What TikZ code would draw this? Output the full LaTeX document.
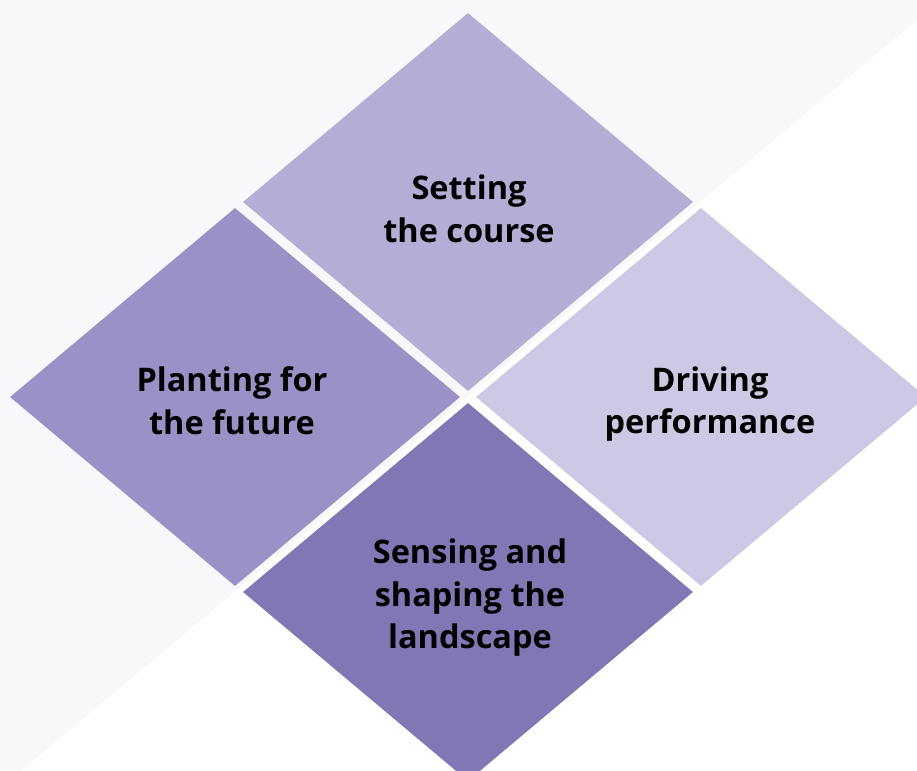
\documentclass[tikz,border=0pt]{standalone}
\usepackage{fontspec}
\setmainfont{Open Sans}
\usetikzlibrary{shapes.geometric}
\definecolor{bggray}{HTML}{F8F8FA}
\definecolor{dtop}{HTML}{B3AED6}
\definecolor{dleft}{HTML}{9B91C6}
\definecolor{dright}{HTML}{CDC9E4}
\definecolor{dbottom}{HTML}{8177B5}
\tikzset{
  tile/.style={diamond, draw=none, inner sep=0pt, minimum width=450pt, minimum height=378pt},
  lbl/.style={align=center, inner sep=0pt, text=black, font=\fontsize{32.5}{42.5}\selectfont\bfseries},
}
\begin{document}
\begin{tikzpicture}[x=1pt,y=-1pt]
\useasboundingbox (0,0) rectangle (917,770);
\fill[white] (0,0) rectangle (917,770);
\fill[bggray] (0,0) -- (917,0) -- (917,20) -- (22,770) -- (0,770) -- cycle;
\begin{scope}
\clip (0,0) rectangle (917,770);
\node[tile, fill=dtop] (top) at (468,202) {};
\node[tile, fill=dleft] (left) at (235,397) {};
\node[tile, fill=dright] (right) at (701,397) {};
\node[tile, fill=dbottom] (bottom) at (468,592) {};
\end{scope}
\node[lbl] (ttop) at (469,209) {Setting\\the course};
\node[lbl] (tleft) at (232,400.5) {Planting for\\the future};
\node[lbl] (tright) at (710,404) {Driving\\performance};
\node[lbl] (tbottom) at (470,598) {Sensing and\\shaping the\\landscape};
\end{tikzpicture}
\end{document}
